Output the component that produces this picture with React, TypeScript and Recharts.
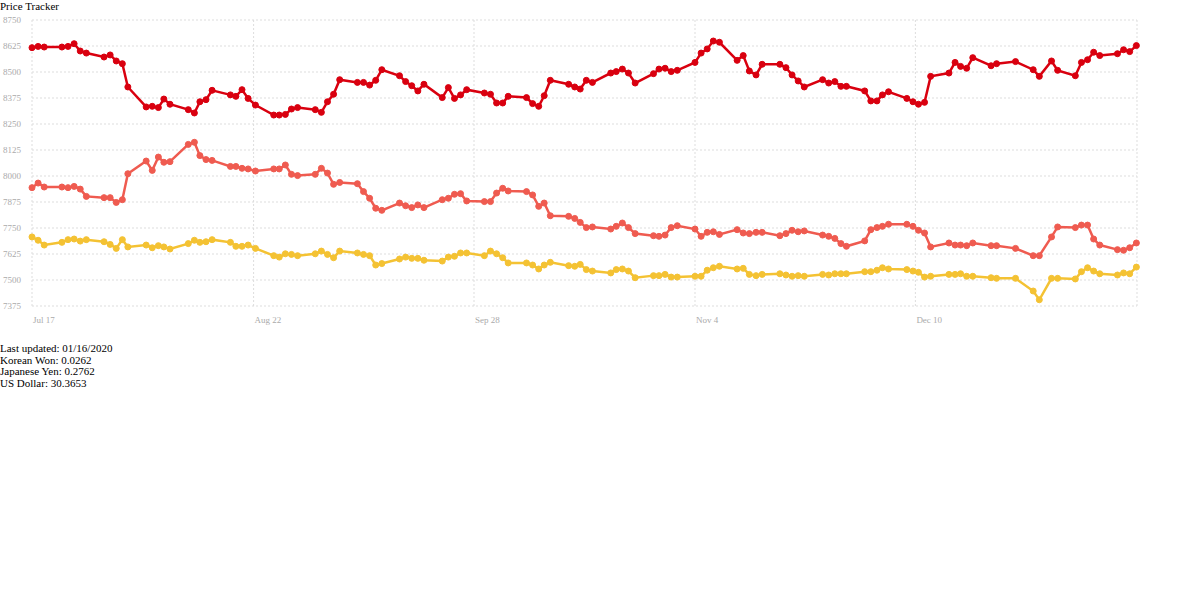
import React from "react";
import { LineChart, Line, XAxis, YAxis, CartesianGrid } from "recharts";

const days: number[] = [
  0,1.0,2.0,4.9,5.9,6.9,7.9,8.9,11.8,12.8,13.8,14.8,15.7,18.7,19.7,20.7,21.6,22.6,25.6,26.6,27.5,28.5,29.5,32.5,33.4,34.4,35.4,36.6,39.6,40.5,41.5,42.5,43.5,46.4,47.4,48.4,49.4,50.4,53.3,54.3,55.3,56.3,57.3,
  60.2,61.2,62.2,63.2,64.2,67.2,68.2,69.2,70.2,71.2,74.1,75.1,76.1,77.1,78.0,81.0,82.0,83.0,83.9,84.9,87.9,88.9,89.8,90.8,91.8,94.8,95.7,96.7,97.7,98.8,101.8,102.7,103.7,104.7,105.7,108.6,109.6,110.6,111.6,112.6,115.5,116.5,117.5,118.6,119.6,
  122.5,123.5,124.5,125.5,126.5,129.5,130.5,131.5,132.5,133.4,136.4,137.4,138.4,139.3,140.3,143.3,144.3,145.2,146.2,147.2,150.2,151.2,152.1,153.1,154.1,157.1,158.0,161.1,164.0,165.0,167.0,168.0,170.9,171.9,172.9,173.9,174.9,177.8,178.8,179.8,180.9,
];

const seriesA: number[] = [
  8617,8623,8620,8620,8623,8636,8601,8591,8572,8582,8553,8540,8428,8332,8335,8329,8370,8345,8319,8303,8357,8367,8412,8390,8383,8415,8373,8341,8293,8293,8296,8322,8329,8319,8306,8357,8393,8463,8450,8450,8437,8460,8511,
  8482,8454,8434,8409,8441,8377,8425,8373,8390,8415,8399,8393,8351,8351,8383,8377,8348,8335,8386,8460,8441,8428,8418,8460,8450,8495,8502,8514,8495,8447,8492,8514,8518,8502,8508,8546,8591,8611,8649,8643,8556,8579,8505,8486,8537,
  8537,8521,8486,8457,8428,8463,8447,8454,8431,8431,8409,8361,8361,8390,8405,8373,8357,8345,8354,8479,8495,8546,8527,8518,8569,8530,8540,8550,8511,8479,8553,8508,8482,8546,8559,8595,8579,8588,8607,8598,8627,
];

const seriesB: number[] = [
  7944,7966,7947,7947,7944,7950,7937,7902,7896,7896,7873,7886,8011,8072,8027,8091,8066,8069,8152,8162,8098,8079,8075,8046,8046,8037,8034,8024,8034,8034,8053,8008,8002,8008,8037,8014,7960,7969,7963,7925,7893,7845,7835,
  7870,7857,7848,7861,7848,7886,7893,7912,7915,7880,7877,7877,7918,7941,7928,7925,7909,7854,7870,7809,7806,7796,7777,7752,7755,7745,7758,7774,7752,7723,7713,7710,7716,7752,7761,7745,7710,7729,7732,7719,7742,7726,7723,7729,7729,
  7713,7723,7739,7732,7736,7716,7710,7700,7675,7662,7688,7742,7752,7758,7768,7768,7758,7739,7726,7659,7678,7668,7668,7665,7678,7665,7665,7652,7617,7617,7707,7755,7752,7764,7764,7697,7668,7646,7643,7655,7678,
];

const seriesC: number[] = [
  7707,7691,7668,7681,7694,7697,7687,7694,7684,7671,7652,7694,7659,7668,7655,7665,7659,7649,7675,7691,7681,7684,7694,7681,7662,7662,7668,7652,7617,7610,7626,7623,7617,7626,7639,7623,7607,7639,7630,7623,7617,7572,7579,
  7601,7610,7604,7604,7595,7591,7610,7614,7630,7630,7617,7639,7626,7607,7582,7582,7572,7553,7572,7585,7569,7566,7575,7550,7543,7534,7550,7553,7543,7511,7521,7521,7527,7514,7514,7518,7518,7547,7559,7566,7553,7556,7527,7521,7527,
  7530,7524,7518,7521,7518,7527,7524,7530,7530,7530,7540,7540,7547,7559,7553,7550,7543,7537,7514,7518,7527,7527,7530,7518,7518,7511,7508,7508,7447,7405,7508,7508,7505,7540,7559,7543,7530,7524,7534,7530,7562,
];

const tickDays: number[] = [0, 36.3, 72.4, 108.6, 144.7];
const tickLabels: string[] = ["Jul 17", "Aug 22", "Sep 28", "Nov 4", "Dec 10"];
const yTicks: number[] = [7375, 7500, 7625, 7750, 7875, 8000, 8125, 8250, 8375, 8500, 8625, 8750];

const infoLines: string[] = [
  "Last updated: 01/16/2020",
  "Korean Won: 0.0262",
  "Japanese Yen: 0.2762",
  "US Dollar: 30.3653",
];

const data = days.map((d, i) => ({ d, a: seriesA[i], b: seriesB[i], c: seriesC[i] }));

const XTick = (props: any) => {
  const { x, y, payload } = props;
  const idx = tickDays.indexOf(payload.value);
  return (
    <text x={x + 1} y={y + 9} textAnchor="start" fontSize={9} fill="#aaa" fontFamily="Liberation Serif, serif">
      {idx >= 0 ? tickLabels[idx] : ""}
    </text>
  );
};

export default function App() {
  React.useEffect(() => {
    document.body.style.margin = "0";
  }, []);
  const colors = ["#d9000f", "#ef5b50", "#f4c233"];
  return (
    <div style={{ fontFamily: "Liberation Serif, serif", margin: 0 }}>
      <div style={{ fontSize: 11, lineHeight: "12px", height: 12 }}>Price Tracker</div>
      <LineChart width={1145} height={318} data={data} margin={{ top: 8, right: 8, bottom: 0, left: 0 }}>
        <CartesianGrid stroke="#ddd" strokeDasharray="2 2" />
        <XAxis
          dataKey="d"
          type="number"
          domain={[0, 181]}
          ticks={tickDays}
          tick={<XTick />}
          axisLine={false}
          tickLine={false}
          height={24}
          interval={0}
        />
        <YAxis
          type="number"
          domain={[7375, 8750]}
          ticks={yTicks}
          width={32}
          axisLine={false}
          tickLine={false}
          tickMargin={5}
          interval={0}
          tick={{ fontSize: 9, fill: "#aaa", fontFamily: "Liberation Serif, serif" }}
        />
        {(["a", "b", "c"] as const).map((k, i) => (
          <Line
            key={k}
            dataKey={k}
            type="linear"
            stroke={colors[i]}
            strokeWidth={2.5}
            dot={{ r: 3, fill: colors[i], stroke: colors[i], strokeWidth: 1 }}
            isAnimationActive={false}
          />
        ))}
      </LineChart>
      <div style={{ fontSize: 11, lineHeight: "11.5px", marginTop: 13 }}>
        {infoLines.map((t) => (
          <div key={t}>{t}</div>
        ))}
      </div>
    </div>
  );
}
